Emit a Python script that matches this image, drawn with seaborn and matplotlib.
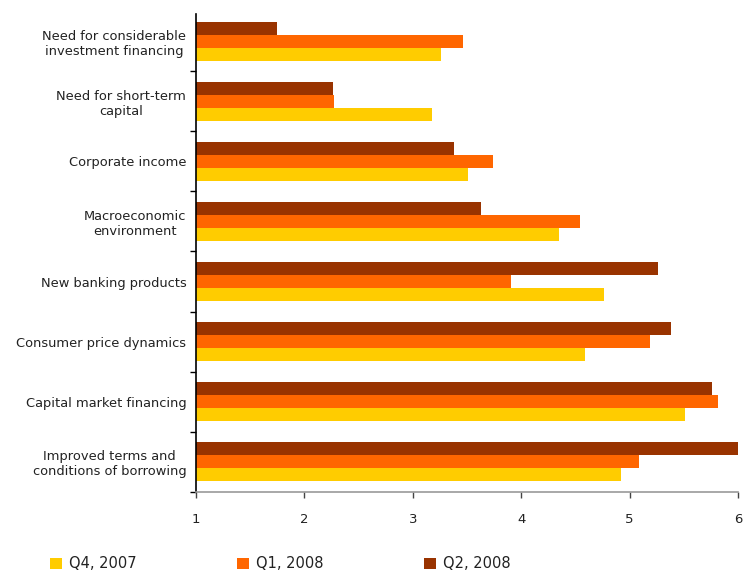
import numpy as np
import pandas as pd
import matplotlib
matplotlib.use("Agg")
import matplotlib.pyplot as plt
import seaborn as sns
from matplotlib.patches import Patch

categories = [
    "Need for considerable\ninvestment financing",
    "Need for short-term\ncapital",
    "Corporate income",
    "Macroeconomic\nenvironment",
    "New banking products",
    "Consumer price dynamics",
    "Capital market financing",
    "Improved terms and\nconditions of borrowing",
]
series_names = ["Q4, 2007", "Q1, 2008", "Q2, 2008"]
q4_2007 = [3.26, 3.18, 3.51, 4.35, 4.76, 4.59, 5.51, 4.92]
q1_2008 = [3.46, 2.27, 3.74, 4.54, 3.91, 5.19, 5.82, 5.09]
q2_2008 = [1.75, 2.26, 3.38, 3.63, 5.26, 5.38, 5.76, 6.00]
x_ticks = [1, 2, 3, 4, 5, 6]

colors = {"Q4, 2007": "#FFCC00", "Q1, 2008": "#FF6600", "Q2, 2008": "#993300"}

df = pd.DataFrame({
    "category": categories * 3,
    "series": [series_names[0]] * 8 + [series_names[1]] * 8 + [series_names[2]] * 8,
    "value": q4_2007 + q1_2008 + q2_2008,
})

sns.set_theme(style="white")
plt.rcParams['font.family'] = ['DejaVu Sans']

fig = plt.figure(figsize=(7.54, 5.72), dpi=100)
ax = fig.add_axes([196 / 754, 1 - 492 / 572, 542 / 754, 478 / 572])

sns.barplot(data=df, y="category", x="value", hue="series",
            order=categories, hue_order=["Q2, 2008", "Q1, 2008", "Q4, 2007"],
            palette=colors, orient="h", width=0.65, saturation=1,
            edgecolor="none", linewidth=0, ax=ax, legend=False)

ax.set_xlim(1, 6)
ax.set_ylim(len(categories) - 0.5, -0.45)
ax.set_xticks(x_ticks)
ax.set_xticklabels([str(t) for t in x_ticks], fontsize=9.5, color="#222222")
ax.set_xlabel("")
ax.set_ylabel("")

ax.set_yticks(range(len(categories)))
ax.set_yticklabels(categories, fontsize=9.4, color="#222222")
for lab in ax.get_yticklabels():
    lab.set_multialignment("center")
ax.set_yticks(np.arange(0.5, len(categories) + 0.5, 1), minor=True)
ax.tick_params(axis="y", which="major", length=0, pad=7)
ax.tick_params(axis="y", which="minor", length=4, width=1, color="black", direction="out", left=True)
ax.tick_params(axis="x", which="major", length=4, width=1, color="#444444", direction="out", bottom=True, pad=11)

for s in ["top", "right"]:
    ax.spines[s].set_visible(False)
ax.spines["left"].set_color("black")
ax.spines["left"].set_linewidth(1.2)
ax.spines["bottom"].set_color("#999999")
ax.spines["bottom"].set_linewidth(1.2)

handles = [Patch(facecolor=colors[s], edgecolor="none") for s in series_names]
leg = fig.legend(handles, series_names, loc="center left", bbox_to_anchor=(37 / 754, 1 - 564 / 572),
                 ncol=3, frameon=False, fontsize=10.5, handlelength=0.8, handleheight=0.8,
                 handletextpad=0.5, columnspacing=6.9)
for t in leg.get_texts():
    t.set_color("#222222")

fig.savefig("out.png", dpi=100)
